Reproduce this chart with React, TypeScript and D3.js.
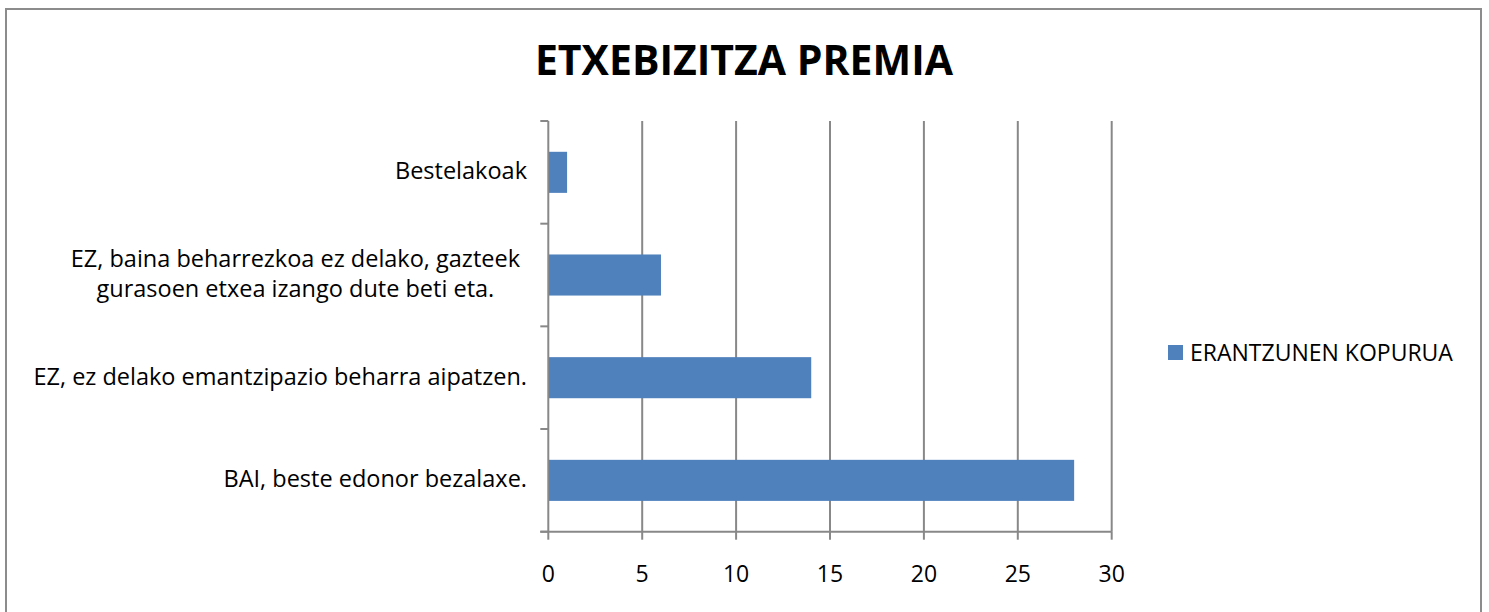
import { useEffect, useRef } from "react";
import * as d3 from "d3";

const categories = [
  "BAI, beste edonor bezalaxe.",
  "EZ, ez delako emantzipazio beharra aipatzen.",
  "EZ, baina beharrezkoa ez delako, gazteek gurasoen etxea izango dute beti eta.",
  "Bestelakoak",
];
const labelLines = [
  ["BAI, beste edonor bezalaxe."],
  ["EZ, ez delako emantzipazio beharra aipatzen."],
  ["EZ, baina beharrezkoa ez delako, gazteek", "gurasoen etxea izango dute beti eta."],
  ["Bestelakoak"],
];
const values = [28, 14, 6, 1];
const xTicks = [0, 5, 10, 15, 20, 25, 30];
const seriesName = "ERANTZUNEN KOPURUA";
const title = "ETXEBIZITZA PREMIA";

const font = "'Open Sans', sans-serif";

export default function App() {
  const svgRef = useRef<SVGSVGElement>(null);

  useEffect(() => {
    if (!svgRef.current) return;
    const svg = d3.select(svgRef.current);
    svg.selectAll("*").remove();

    const width = 1489;
    const height = 612;
    const left = 548.3;
    const right = 1111.7;
    const top = 121;
    const bottom = 531.7;

    // frame
    svg
      .append("rect")
      .attr("x", 6)
      .attr("y", 9)
      .attr("width", 1475)
      .attr("height", 620)
      .attr("fill", "white")
      .attr("stroke", "#8c8c8c")
      .attr("stroke-width", 2);

    svg
      .append("text")
      .attr("x", 744)
      .attr("y", 75)
      .attr("text-anchor", "middle")
      .attr("font-family", font)
      .attr("font-weight", "bold")
      .attr("font-size", 41)
      .attr("fill", "#000")
      .text(title);

    const x = d3.scaleLinear().domain([0, 30]).range([left, right]);
    const y = d3
      .scaleBand<string>()
      .domain([...categories].reverse())
      .range([top, bottom])
      .paddingInner(0.6)
      .paddingOuter(0.3);

    const grid = "#888888";

    // vertical grid lines
    svg
      .append("g")
      .selectAll("line")
      .data(xTicks.slice(1))
      .enter()
      .append("line")
      .attr("x1", (d) => x(d))
      .attr("x2", (d) => x(d))
      .attr("y1", top)
      .attr("y2", bottom)
      .attr("stroke", grid)
      .attr("stroke-width", 2);

    // bars
    svg
      .append("g")
      .selectAll("rect")
      .data(values)
      .enter()
      .append("rect")
      .attr("x", x(0))
      .attr("y", (_, i) => y(categories[i])!)
      .attr("width", (d) => x(d) - x(0))
      .attr("height", y.bandwidth())
      .attr("fill", "#4f81bd");

    // y axis line and ticks
    svg
      .append("line")
      .attr("x1", left)
      .attr("x2", left)
      .attr("y1", top)
      .attr("y2", bottom)
      .attr("stroke", grid)
      .attr("stroke-width", 2);

    const step = (bottom - top) / categories.length;
    const yTicks = d3.range(categories.length + 1).map((i) => top + i * step);
    svg
      .append("g")
      .selectAll("line")
      .data(yTicks)
      .enter()
      .append("line")
      .attr("x1", left - 8)
      .attr("x2", left)
      .attr("y1", (d) => d)
      .attr("y2", (d) => d)
      .attr("stroke", grid)
      .attr("stroke-width", 2);

    // x axis
    svg
      .append("line")
      .attr("x1", left - 8)
      .attr("x2", right)
      .attr("y1", bottom)
      .attr("y2", bottom)
      .attr("stroke", grid)
      .attr("stroke-width", 2);

    svg
      .append("g")
      .selectAll("line")
      .data(xTicks)
      .enter()
      .append("line")
      .attr("x1", (d) => x(d))
      .attr("x2", (d) => x(d))
      .attr("y1", bottom)
      .attr("y2", bottom + 8)
      .attr("stroke", grid)
      .attr("stroke-width", 2);

    svg
      .append("g")
      .selectAll("text")
      .data(xTicks)
      .enter()
      .append("text")
      .attr("x", (d) => x(d))
      .attr("y", 582)
      .attr("text-anchor", "middle")
      .attr("font-family", font)
      .attr("font-size", 23)
      .attr("fill", "#000")
      .text((d) => d);

    // category labels: multi-line labels are centred on each other, block right-aligned
    categories.forEach((c, i) => {
      const lines = labelLines[i];
      const cy = y(c)! + y.bandwidth() / 2;
      const lh = 30;
      const t = svg
        .append("text")
        .attr("font-family", font)
        .attr("font-size", 23.5)
        .attr("fill", "#000");
      if (lines.length === 1) {
        t.attr("text-anchor", "end")
          .append("tspan")
          .attr("x", 527)
          .attr("y", cy + 7)
          .text(lines[0]);
      } else {
        const spans = lines.map((ln, j) =>
          t
            .append("tspan")
            .attr("y", cy + 7 + (j - (lines.length - 1) / 2) * lh)
            .text(ln)
        );
        const widths = spans.map((s) => (s.node() as SVGTSpanElement).getComputedTextLength());
        const cx = 520 - d3.max(widths)! / 2;
        t.attr("text-anchor", "middle");
        spans.forEach((s) => s.attr("x", cx));
      }
    });

    // legend
    svg
      .append("rect")
      .attr("x", 1168)
      .attr("y", 345)
      .attr("width", 15)
      .attr("height", 15)
      .attr("fill", "#4f81bd");
    svg
      .append("text")
      .attr("x", 1190)
      .attr("y", 361)
      .attr("font-family", font)
      .attr("font-size", 23)
      .attr("fill", "#000")
      .text(seriesName);

    svg.attr("width", width).attr("height", height);
  }, []);

  return (
    <svg
      ref={svgRef}
      width={1489}
      height={612}
      style={{ position: "absolute", left: 0, top: 0, display: "block" }}
    />
  );
}
